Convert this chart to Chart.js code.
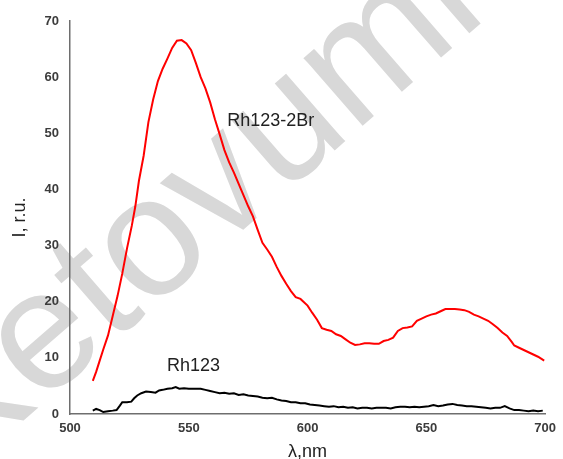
<!DOCTYPE html>
<html>
<head>
<meta charset="utf-8">
<script src="https://cdn.jsdelivr.net/npm/chart.js@4/dist/chart.umd.min.js"></script>
<style>
  html, body { margin: 0; padding: 0; background: #ffffff; }
  #wrap { width: 563px; height: 459px; position: relative; }
</style>
</head>
<body>
<div id="wrap"><canvas id="c" width="563" height="459"></canvas></div>
<script>
// ---- data ----
const xTicks = [500, 550, 600, 650, 700];
const yTicks = [0, 10, 20, 30, 40, 50, 60, 70];

const seriesNames = ['Rh123-2Br', 'Rh123'];

const redWavelength = [509.6, 511, 512.5, 514, 516, 518, 520, 522, 524, 526, 527.5, 529, 531, 533, 535, 537, 539, 541, 543, 545, 547, 549, 551, 553, 555, 557, 559, 561, 563, 565, 567, 569, 571, 573, 575, 577, 579, 581, 583, 585, 587, 589, 591, 593, 595, 597, 600, 602, 604, 606, 608, 610, 612, 614, 616, 618, 620, 622, 624, 626, 628, 630, 632, 634, 636, 638, 640, 642, 644, 646, 648, 650, 652, 654, 656, 658, 660, 662, 664, 666, 668, 670, 672, 674, 676, 678, 680, 682, 684, 686, 687, 689, 691, 693, 695, 697, 699.6];
const redIntensity = [5.9, 7.5, 9.5, 11.5, 14, 17.5, 21, 25, 29.5, 33.5, 37, 41.5, 46, 52, 56, 59.3, 61.5, 63.3, 65.2, 66.5, 66.6, 66, 64.8, 62.5, 60, 58, 55.5, 52.5, 49.8, 47, 44.8, 43, 41, 39, 37, 35.2, 32.8, 30.5, 29.3, 28, 26.2, 24.6, 23.2, 21.9, 20.8, 20.5, 19.3, 18, 16.8, 15.3, 15, 14.8, 14.2, 13.9, 13.3, 12.7, 12.3, 12.4, 12.6, 12.6, 12.5, 12.5, 13, 13.2, 13.6, 14.8, 15.3, 15.4, 15.6, 16.6, 17, 17.4, 17.7, 17.9, 18.3, 18.7, 18.7, 18.7, 18.6, 18.5, 18.2, 17.7, 17.4, 17, 16.6, 16, 15.3, 14.5, 13.9, 12.8, 12.2, 11.8, 11.4, 11, 10.6, 10.2, 9.5];

const blackWavelength = [509.6, 511, 512.5, 514, 516, 518, 519.6, 521, 522, 524, 525.8, 527, 528.3, 530, 532, 534, 536, 537.5, 539, 541, 543, 544.5, 546, 548, 550, 553, 555, 557, 559, 561, 563, 565, 567, 569, 571, 573, 575, 577, 579, 581, 583, 585, 587, 589, 591, 593, 595, 597, 599, 601, 603, 605, 607, 609, 611, 613, 615, 617, 619, 621, 623, 625, 627, 629, 631, 633, 635, 637, 639, 641, 643, 645, 647, 649, 651, 653, 655, 657, 659, 661, 663, 665, 667, 669, 671, 673, 675, 677, 679, 681, 683, 685, 687, 689, 691, 693, 695, 697, 699];
const blackIntensity = [0.6, 0.9, 0.7, 0.35, 0.5, 0.6, 0.7, 1.5, 2.1, 2.1, 2.2, 2.8, 3.3, 3.7, 4.0, 3.9, 3.8, 4.2, 4.3, 4.5, 4.6, 4.8, 4.5, 4.6, 4.5, 4.5, 4.5, 4.3, 4.1, 3.9, 3.7, 3.8, 3.6, 3.7, 3.4, 3.5, 3.3, 3.2, 3.1, 2.9, 2.8, 2.9, 2.6, 2.4, 2.3, 2.1, 2.1, 1.9, 1.9, 1.7, 1.6, 1.5, 1.4, 1.3, 1.4, 1.2, 1.3, 1.1, 1.2, 1.0, 1.1, 1.1, 1.0, 1.1, 1.1, 1.1, 1.0, 1.2, 1.3, 1.3, 1.2, 1.3, 1.2, 1.3, 1.4, 1.6, 1.4, 1.5, 1.7, 1.8, 1.6, 1.5, 1.4, 1.4, 1.3, 1.2, 1.1, 1.0, 1.1, 1.1, 1.4, 1.0, 0.7, 0.7, 0.6, 0.5, 0.6, 0.5, 0.6];

const xTitle = 'λ,nm';
const yTitle = 'I, r.u.';
const watermarkText = 'Ketovumi';

// label anchors in data units
const seriesLabelAt = [
  { x: 584.5, y: 52.2 },
  { x: 552, y: 8.6 }
];

function toPoints(xs, ys) { return xs.map((x, i) => ({ x: x, y: ys[i] })); }

const watermarkPlugin = {
  id: 'watermark',
  beforeDraw(chart) {
    const ctx = chart.ctx;
    ctx.save();
    ctx.translate(191, 213);
    ctx.rotate(-41 * Math.PI / 180);
    ctx.font = '170px "Liberation Sans", Arial, sans-serif';
    ctx.fillStyle = '#d8d8d8';
    ctx.textAlign = 'center';
    ctx.textBaseline = 'middle';
    ctx.fillText(watermarkText, 0, 0);
    ctx.restore();
  }
};

const seriesLabelPlugin = {
  id: 'seriesLabels',
  afterDatasetsDraw(chart) {
    const ctx = chart.ctx;
    const xs = chart.scales.x, ys = chart.scales.y;
    ctx.save();
    ctx.font = '18px "Liberation Sans", Arial, sans-serif';
    ctx.fillStyle = '#222222';
    ctx.textAlign = 'center';
    ctx.textBaseline = 'middle';
    seriesNames.forEach((name, i) => {
      ctx.fillText(name, xs.getPixelForValue(seriesLabelAt[i].x), ys.getPixelForValue(seriesLabelAt[i].y));
    });
    ctx.restore();
  }
};

new Chart(document.getElementById('c'), {
  type: 'scatter',
  data: {
    datasets: [
      {
        label: seriesNames[0],
        data: toPoints(redWavelength, redIntensity),
        showLine: true,
        borderColor: '#ff0000',
        borderWidth: 2,
        pointRadius: 0,
        tension: 0
      },
      {
        label: seriesNames[1],
        data: toPoints(blackWavelength, blackIntensity),
        showLine: true,
        borderColor: '#000000',
        borderWidth: 2,
        pointRadius: 0,
        tension: 0
      }
    ]
  },
  options: {
    responsive: false,
    animation: false,
    layout: { padding: { top: 21, right: 12, left: 0, bottom: 0 } },
    plugins: {
      legend: { display: false },
      tooltip: { enabled: false }
    },
    scales: {
      x: {
        type: 'linear',
        min: 500, max: 700,
        afterBuildTicks(s) { s.ticks = xTicks.map(v => ({ value: v })); },
        afterFit(s) { s.height = 45; },
        grid: { display: false, drawTicks: false },
        border: { display: true, color: '#6e6e6e', width: 1.5 },
        ticks: {
          padding: 7,
          color: '#3c3c3c',
          font: { family: '"Liberation Sans", Arial, sans-serif', size: 13, weight: 'bold' },
          maxRotation: 0
        },
        title: {
          display: true,
          text: xTitle,
          color: '#222222',
          font: { family: '"Liberation Sans", Arial, sans-serif', size: 18, lineHeight: 0.8 },
          padding: { top: 0, bottom: 0 }
        }
      },
      y: {
        min: 0, max: 70,
        afterBuildTicks(s) { s.ticks = yTicks.map(v => ({ value: v })); },
        afterFit(s) { s.width = 70; },
        grid: { display: false, drawTicks: false },
        border: { display: true, color: '#6e6e6e', width: 1.5 },
        ticks: {
          padding: 11,
          color: '#3c3c3c',
          font: { family: '"Liberation Sans", Arial, sans-serif', size: 13, weight: 'bold' }
        },
        title: {
          display: true,
          text: yTitle,
          color: '#222222',
          font: { family: '"Liberation Sans", Arial, sans-serif', size: 18 },
          padding: { top: 9, bottom: 0 }
        }
      }
    }
  },
  plugins: [watermarkPlugin, seriesLabelPlugin]
});
</script>
</body>
</html>
